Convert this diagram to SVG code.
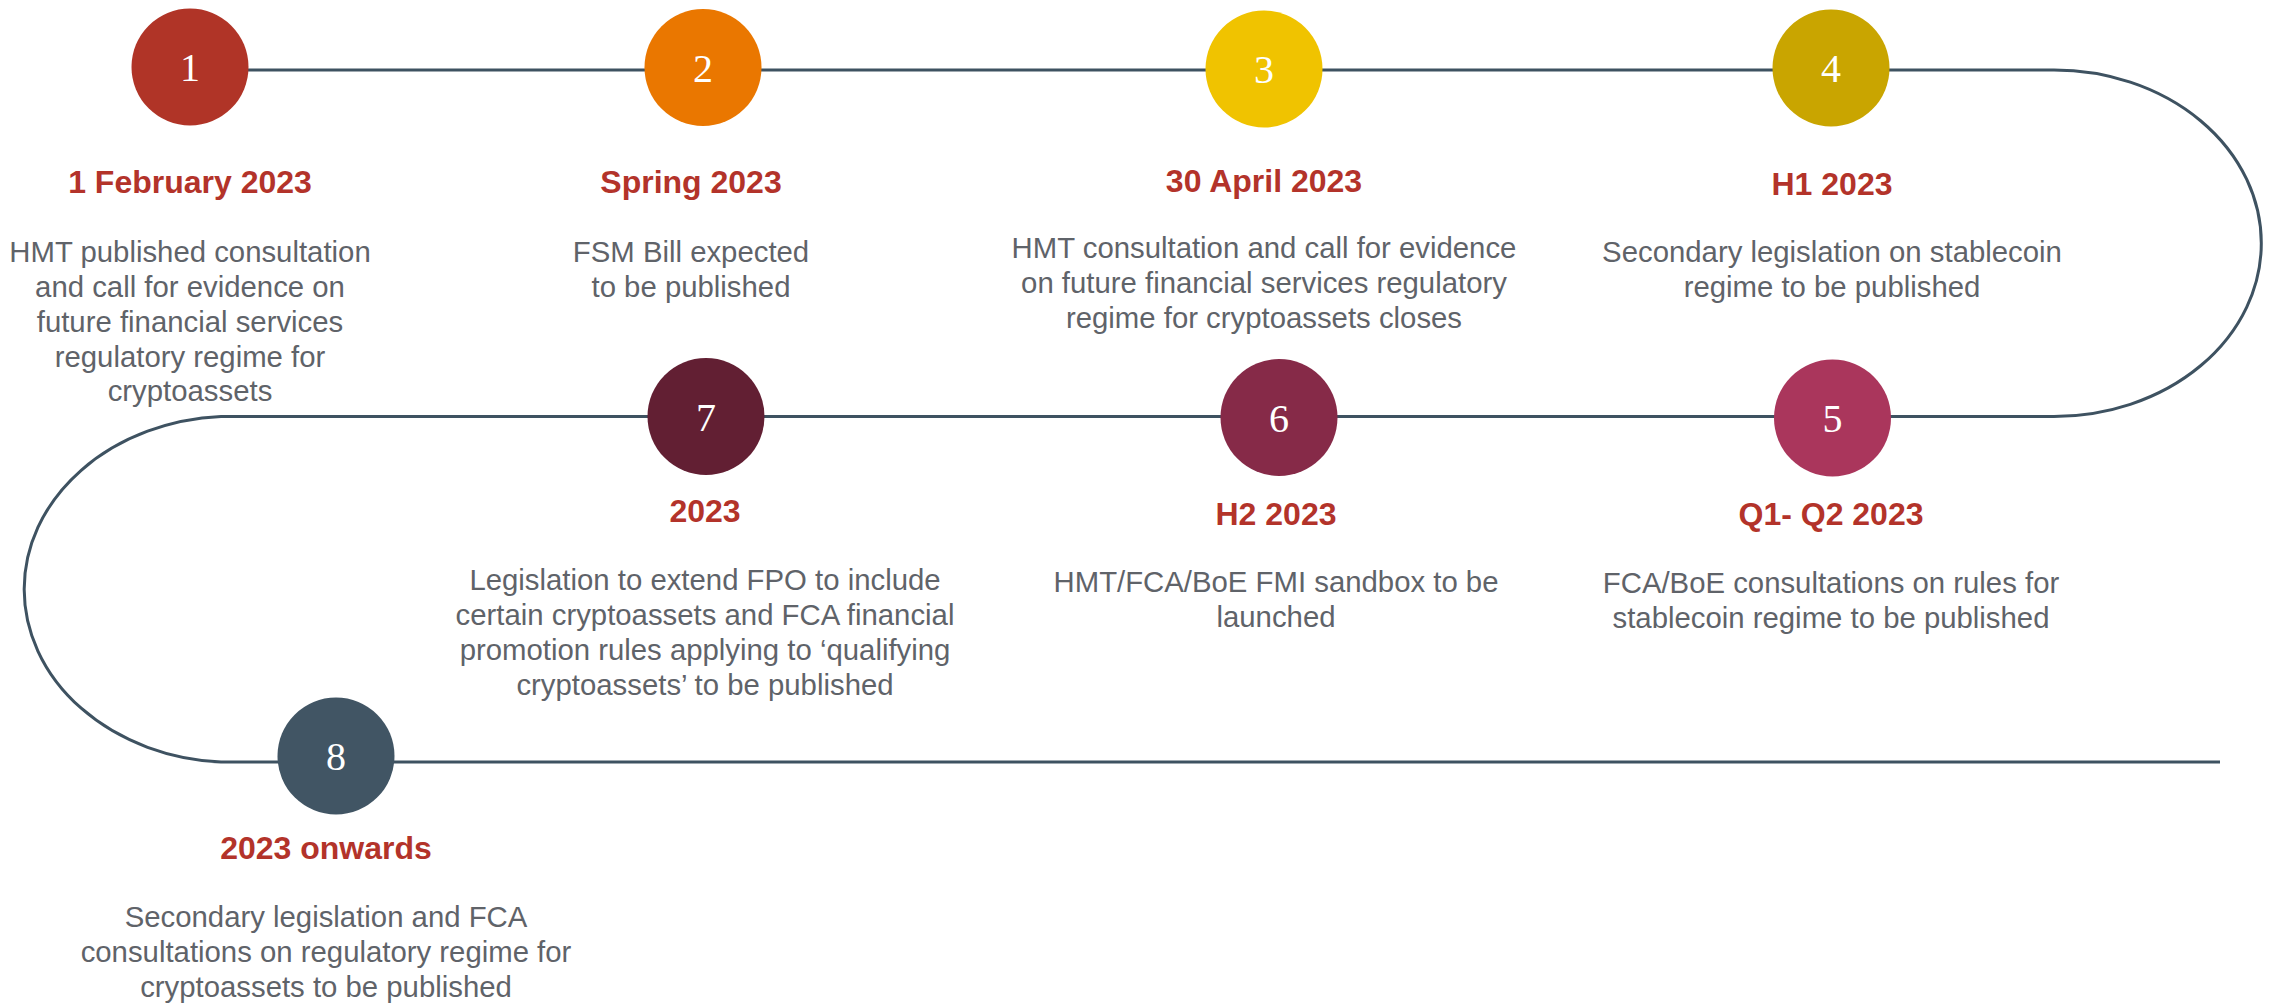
<svg xmlns="http://www.w3.org/2000/svg" width="2275" height="1006" viewBox="0 0 2275 1006">
  <style>
    .track { fill: none; stroke: #3E5261; stroke-width: 3; }
    .num { font-family: "Liberation Serif", "Times New Roman", serif; font-size: 40px; fill: #ffffff; text-anchor: middle; }
    .title { font-family: "Liberation Sans", Arial, sans-serif; font-size: 32px; font-weight: bold; fill: #B3332A; text-anchor: middle; }
    .desc { font-family: "Liberation Sans", Arial, sans-serif; font-size: 29.33px; fill: #5F6369; text-anchor: middle; }
  </style>
  <rect width="2275" height="1006" fill="#ffffff"/>

  <!-- serpentine timeline track -->
  <g id="connectors">
    <path class="track" d="M190,70 H2054 A207,173 0 0 1 2054,416.5 H221 A208,173 0 0 0 221,762 H2220"/>
  </g>

  <g id="node-1">
    <circle cx="190" cy="67" r="58.5" fill="#B03427"/>
    <text class="num" x="190" y="81">1</text>
    <text class="title" x="190" y="193">1 February 2023</text>
    <text class="desc" x="190" y="262">HMT published consultation</text>
    <text class="desc" x="190" y="297">and call for evidence on</text>
    <text class="desc" x="190" y="332">future financial services</text>
    <text class="desc" x="190" y="367">regulatory regime for</text>
    <text class="desc" x="190" y="401">cryptoassets</text>
  </g>

  <g id="node-2">
    <circle cx="703" cy="67.5" r="58.5" fill="#EA7700"/>
    <text class="num" x="703" y="82">2</text>
    <text class="title" x="691" y="193">Spring 2023</text>
    <text class="desc" x="691" y="262">FSM Bill expected</text>
    <text class="desc" x="691" y="297">to be published</text>
  </g>

  <g id="node-3">
    <circle cx="1264" cy="69" r="58.5" fill="#F0C300"/>
    <text class="num" x="1264" y="83">3</text>
    <text class="title" x="1264" y="192">30 April 2023</text>
    <text class="desc" x="1264" y="258">HMT consultation and call for evidence</text>
    <text class="desc" x="1264" y="293">on future financial services regulatory</text>
    <text class="desc" x="1264" y="328">regime for cryptoassets closes</text>
  </g>

  <g id="node-4">
    <circle cx="1831" cy="68" r="58.5" fill="#C9A500"/>
    <text class="num" x="1831" y="82">4</text>
    <text class="title" x="1832" y="195">H1 2023</text>
    <text class="desc" x="1832" y="262">Secondary legislation on stablecoin</text>
    <text class="desc" x="1832" y="297">regime to be published</text>
  </g>

  <g id="node-5">
    <circle cx="1832.5" cy="418" r="58.5" fill="#AA365C"/>
    <text class="num" x="1832.5" y="432">5</text>
    <text class="title" x="1831" y="525">Q1- Q2 2023</text>
    <text class="desc" x="1831" y="593">FCA/BoE consultations on rules for</text>
    <text class="desc" x="1831" y="628">stablecoin regime to be published</text>
  </g>

  <g id="node-6">
    <circle cx="1279" cy="417.5" r="58.5" fill="#862A48"/>
    <text class="num" x="1279" y="431.5">6</text>
    <text class="title" x="1276" y="525">H2 2023</text>
    <text class="desc" x="1276" y="592">HMT/FCA/BoE FMI sandbox to be</text>
    <text class="desc" x="1276" y="627">launched</text>
  </g>

  <g id="node-7">
    <circle cx="706" cy="416.5" r="58.5" fill="#621F33"/>
    <text class="num" x="706" y="430.5">7</text>
    <text class="title" x="705" y="522">2023</text>
    <text class="desc" x="705" y="590">Legislation to extend FPO to include</text>
    <text class="desc" x="705" y="624.5">certain cryptoassets and FCA financial</text>
    <text class="desc" x="705" y="659.5">promotion rules applying to ‘qualifying</text>
    <text class="desc" x="705" y="694.5">cryptoassets’ to be published</text>
  </g>

  <g id="node-8">
    <circle cx="336" cy="756" r="58.5" fill="#415564"/>
    <text class="num" x="336" y="770">8</text>
    <text class="title" x="326" y="859">2023 onwards</text>
    <text class="desc" x="326" y="927">Secondary legislation and FCA</text>
    <text class="desc" x="326" y="962">consultations on regulatory regime for</text>
    <text class="desc" x="326" y="997">cryptoassets to be published</text>
  </g>
</svg>
